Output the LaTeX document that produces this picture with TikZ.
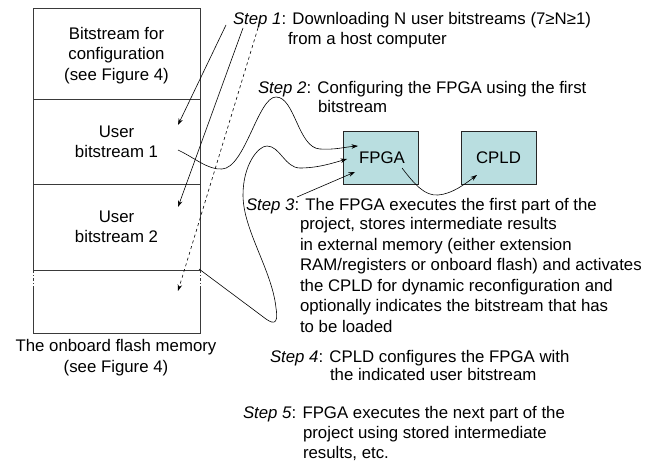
\documentclass[tikz,border=0pt]{standalone}
\usepackage{fontspec}
\setmainfont{Liberation Sans}
\usetikzlibrary{arrows.meta}
\definecolor{chipfill}{HTML}{B9DEE0}
\definecolor{memline}{HTML}{3A3A3A}

\begin{document}
\begin{tikzpicture}[x=1pt,y=-1pt,
  every node/.style={font=\fontsize{16.8}{20.5}\selectfont, inner sep=0pt, outer sep=0pt},
  lbl/.style={anchor=base west},
  memtext/.style={align=center},
  section/.style={draw=memline, line width=0.9pt, minimum width=167pt},
  chip/.style={draw=black!85, fill=chipfill, line width=0.7pt,
               minimum width=75pt, minimum height=53pt},
  link/.style={line width=0.6pt, -{Stealth[length=6.5pt,width=4.5pt]}},
  plain/.style={line width=0.6pt}
  ]
\useasboundingbox (0,0) rectangle (655,462);

% ---- onboard flash memory ----
\node[section, minimum height=91pt] (cfg) at (116.5,53.5) {};
\node[section, minimum height=85pt] (ub1) at (116.5,141.5) {};
\node[section, minimum height=86pt] (ub2) at (116.5,227) {};
\node[memtext] (cfgtxt) at (116.5,55.5) {Bitstream for\\configuration\\(see Figure 4)};
\node[memtext] (ub1txt) at (116.5,142) {User\\bitstream 1};
\node[memtext] (ub2txt) at (116.5,227) {User\\bitstream 2};
% free slot below the user bitstreams
\coordinate (freeTL) at (33,270);
\coordinate (freeTR) at (200,270);
\coordinate (freeML) at (33,286);
\coordinate (freeMR) at (200,286);
\coordinate (freeBL) at (33,333);
\coordinate (freeBR) at (200,333);
\draw[memline, line width=0.8pt, dash pattern=on 3pt off 2pt on 1pt off 2pt] (freeTL) -- (freeML) (freeTR) -- (freeMR);
\draw[memline, line width=0.9pt] (freeML) -- (freeBL) -- (freeBR) -- (freeMR);
\node[memtext] (memcap) at (116,357.5) {The onboard flash memory\\(see Figure 4)};

% ---- devices ----
\node[chip] (fpga) at (380.5,157.5) {};
\node (fpgatxt) at (382,158) {FPGA};
\node[chip] (cpld) at (498.5,157.5) {CPLD};

% ---- step descriptions ----
\node[lbl] (s1a) at (233,25) {\textit{Step 1}: Downloading N user bitstreams (7≥N≥1)};
\node[lbl] (s1b) at (288,44.5) {from a host computer};
\node[lbl] (s2a) at (258,94) {\textit{Step 2}: Configuring the FPGA using the first};
\node[lbl] (s2b) at (318,113) {bitstream};
\node[lbl] (s3a) at (246,211) {\textit{Step 3}: The FPGA executes the first part of the};
\node[lbl] (s3b) at (300,229.5) {project, stores intermediate results};
\node[lbl] (s3c) at (300,250) {in external memory (either extension};
\node[lbl] (s3d) at (300,270.5) {RAM/registers or onboard flash) and activates};
\node[lbl] (s3e) at (300,291) {the CPLD for dynamic reconfiguration and};
\node[lbl] (s3f) at (300,311.5) {optionally indicates the bitstream that has};
\node[lbl] (s3g) at (300,332) {to be loaded};
\node[lbl] (s4a) at (270,362) {\textit{Step 4}: CPLD configures the FPGA with};
\node[lbl] (s4b) at (330,380) {the indicated user bitstream};
\node[lbl] (s5a) at (243,418) {\textit{Step 5}: FPGA executes the next part of the};
\node[lbl] (s5b) at (303,438) {project using stored intermediate};
\node[lbl] (s5c) at (303,458) {results, etc.};

% ---- connector end points ----
\coordinate (d1) at (226,25);
\coordinate (d2) at (243,28);
\coordinate (d3) at (258,28);
\coordinate (slot1) at (178,125);
\coordinate (slot2) at (178,207);
\coordinate (slot3) at (178,291);
\coordinate (ub1out) at (178,150);
\coordinate (ub2out) at (199,269);
\coordinate (fpgaA) at (358,146);
\coordinate (fpgaB) at (347,159);
\coordinate (fpgaC) at (355,172);
\coordinate (s3from) at (297,197);
\coordinate (fpgaout) at (402,168);
\coordinate (cpldin) at (477,175);

% Step 1: downloading into the flash slots
\draw[link] (d1) -- (slot1);
\draw[link] (d2) -- (slot2);
\draw[link, dashed] (d3) -- (slot3);

% Step 2: first bitstream into the FPGA
\draw[link] (ub1out) .. controls (195,158) and (208,170) .. (222,169)
  .. controls (245,168) and (258,97) .. (276,97)
  .. controls (295,97) and (298,148) .. (320,149)
  .. controls (335,150) and (345,147) .. (fpgaA);

% Step 4: another user bitstream into the FPGA
\draw[link] (ub2out) -- (262,316)
  .. controls (272,324) and (279,327) .. (276,308)
  .. controls (272,270) and (243,230) .. (243,195)
  .. controls (243,165) and (258,146) .. (267,146)
  .. controls (280,146) and (285,168) .. (300,168)
  .. controls (318,168) and (333,163) .. (fpgaB);

% Step 3: execution on the FPGA, then activation of the CPLD
\draw[link] (s3from) -- (fpgaC);
\draw[link] (fpgaout) .. controls (415,185) and (425,196) .. (438,195)
  .. controls (452,194) and (465,184) .. (cpldin);
\end{tikzpicture}
\end{document}
